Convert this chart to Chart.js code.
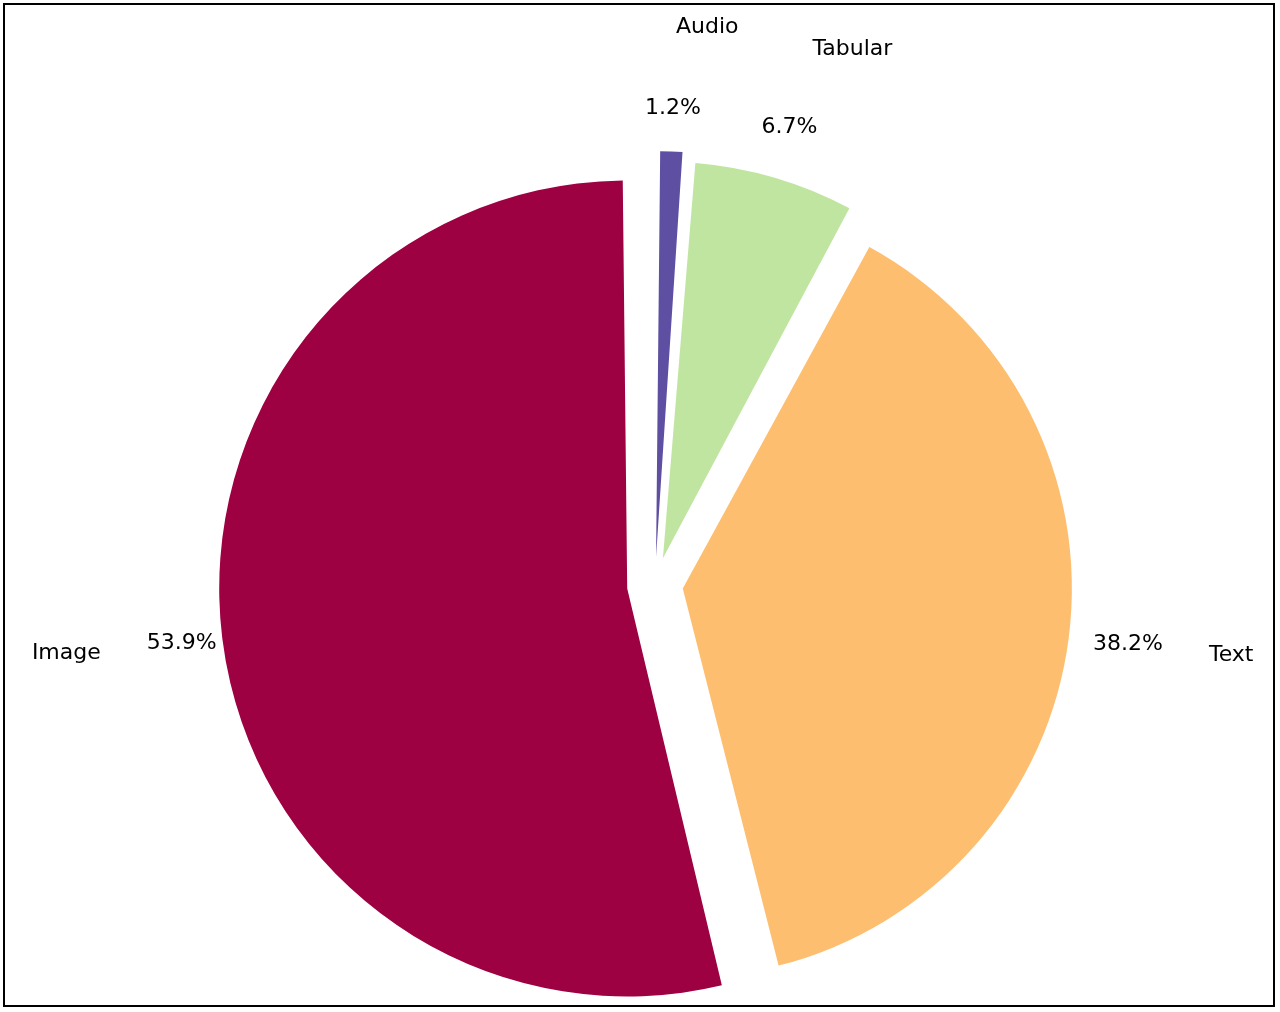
<!DOCTYPE html>
<html><head><meta charset="utf-8">
<script src="https://cdn.jsdelivr.net/npm/chart.js@4/dist/chart.umd.min.js"></script>
<style>body{margin:0;background:#fff}#w{position:relative;width:1280px;height:1012px}
#f{position:absolute;left:3px;top:3px;width:1272px;height:1004px;border:2px solid #000;box-sizing:border-box;pointer-events:none}</style>
</head><body><div id="w"><canvas id="c" width="1280" height="1012"></canvas><div id="f"></div></div>
<script>
const categories = ["Audio", "Tabular", "Text", "Image"];
const shares = [1.2, 6.7, 38.2, 53.9];
const colors = ["#5e4fa2", "#c0e5a0", "#fdbe6f", "#9e0142"];
const EFF = 28, R = 408;
const labelPlugin = {
  id: 'lbl',
  afterDatasetsDraw(chart) {
    const ctx = chart.ctx;
    const meta = chart.getDatasetMeta(0);
    ctx.save();
    ctx.font = '22px "DejaVu Sans"';
    ctx.fillStyle = '#000';
    ctx.textBaseline = 'middle';
    meta.data.forEach((a, i) => {
      const mid = (a.startAngle + a.endAngle) / 2;
      const c = Math.cos(mid), s = Math.sin(mid);
      const cx = a.x + c * EFF, cy = a.y + s * EFF;
      const r = a.outerRadius + EFF;
      ctx.textAlign = 'center';
      ctx.fillText(shares[i].toFixed(1) + '%', cx + c * r * 1.1, cy + s * r * 1.1);
      ctx.textAlign = c >= 0 ? 'left' : 'right';
      ctx.fillText(categories[i], cx + c * r * 1.3, cy + s * r * 1.3);
    });
    ctx.restore();
  }
};
new Chart(document.getElementById('c'), {
  type: 'pie',
  data: { labels: categories, datasets: [{ data: shares, backgroundColor: colors, borderWidth: 0, offset: EFF * 4, hoverOffset: 0 }] },
  options: {
    responsive: false, animation: false, radius: R - EFF,
    layout: { padding: { left: 30, top: 158, right: 0, bottom: 0 } },
    plugins: { legend: { display: false }, tooltip: { enabled: false } }
  },
  plugins: [labelPlugin]
});
</script></body></html>
